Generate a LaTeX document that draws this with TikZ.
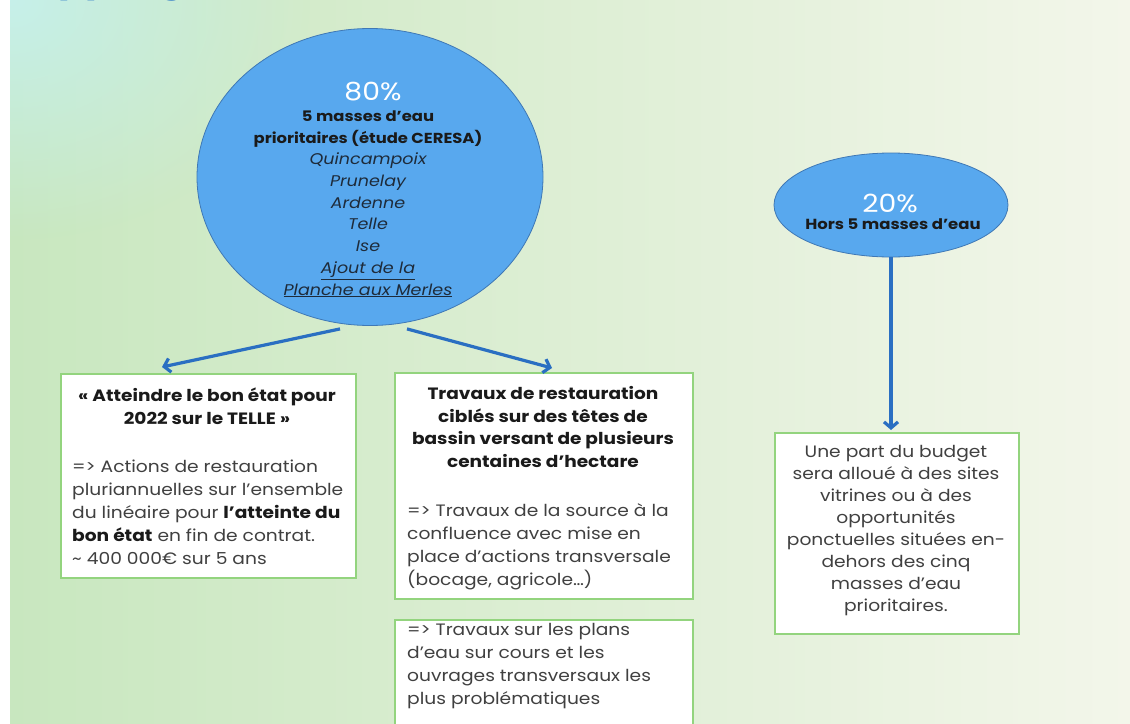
\documentclass[tikz,border=0pt]{standalone}
\usepackage{fontspec}
\setmainfont{Poppins}[FakeStretch=1.13]
\usetikzlibrary{shapes.geometric,arrows.meta,calc,fadings}
\tikzfading[name=cornerfade, inner color=transparent!0, outer color=transparent!100]
\definecolor{bgL}{HTML}{C8E7BF}
\definecolor{bgM}{HTML}{DDEDD1}
\definecolor{bgR}{HTML}{F3F6EA}
\definecolor{bgC}{HTML}{C6F0EA}
\definecolor{ellfill}{HTML}{58A8EE}
\definecolor{ellborder}{HTML}{3F78B5}
\definecolor{arrblue}{HTML}{2A6FC2}
\definecolor{boxgreen}{HTML}{93D47E}
\definecolor{bodygray}{HTML}{404040}
\definecolor{headblack}{HTML}{1A1A1A}
\definecolor{italdark}{HTML}{1E2B3A}
\definecolor{titleblue}{HTML}{1F6FC5}
\begin{document}
\begin{tikzpicture}[x=1pt,y=-1pt,
  bubble/.style={ellipse, draw=ellborder, line width=0.8pt, fill=ellfill, inner sep=0},
  boxnode/.style={draw=boxgreen, line width=1.8pt, fill=white, anchor=north west, inner sep=0},
  arr/.style={draw=arrblue, line width=3.2pt, -{Straight Barb[length=6pt,width=14pt]}},
  bodytxt/.style={inner sep=0, text=bodygray, font=\fontsize{16.5}{23}\selectfont},
  headtxt/.style={inner sep=0, text=headblack, align=center, font=\bfseries\fontsize{16.4}{22.7}\selectfont},
  pct/.style={inner sep=0, text=white, font=\fontsize{25}{28}\selectfont}
]
\useasboundingbox (0,0) rectangle (1130,723);
\fill[white] (0,0) rectangle (1130,723);
\shade[left color=bgL, middle color=bgM, right color=bgR] (10,0) rectangle (1130,723);
\begin{scope}
  \clip (10,0) rectangle (1130,723);
  \fill[bgC, path fading=cornerfade] (10,0) ellipse (300 and 240);
\end{scope}

% clipped title
\node[anchor=base west, inner sep=0, text=titleblue, font=\bfseries\fontsize{35}{40}\selectfont] (title) at (29,-9) {Appui global};

% ellipses
\node[bubble, minimum width=346, minimum height=297] (e1) at (370,177) {};
\node[pct] (p80) at (373,92) {80\%};
\node[inner sep=0, align=center, font=\fontsize{14.5}{21.7}\selectfont] (e1t) at (368,204)
  {\textcolor{headblack}{\bfseries 5 masses d’eau}\\
   \textcolor{headblack}{\bfseries prioritaires (étude CERESA)}\\
   \textcolor{italdark}{\fontsize{15.5}{21.7}\selectfont\itshape Quincampoix}\\
   \textcolor{italdark}{\fontsize{15.5}{21.7}\selectfont\itshape Prunelay}\\
   \textcolor{italdark}{\fontsize{15.5}{21.7}\selectfont\itshape Ardenne}\\
   \textcolor{italdark}{\fontsize{15.5}{21.7}\selectfont\itshape Telle}\\
   \textcolor{italdark}{\fontsize{15.5}{21.7}\selectfont\itshape Ise}\\
   \textcolor{italdark}{\fontsize{15.5}{21.7}\selectfont\itshape\underline{Ajout de la}}\\
   \textcolor{italdark}{\fontsize{15.5}{21.7}\selectfont\itshape\underline{Planche aux Merles}}};

\node[bubble, minimum width=234, minimum height=104] (e2) at (891,205) {};
\node[pct] (p20) at (890,203) {20\%};
\node[inner sep=0, text=headblack, font=\bfseries\fontsize{14.6}{18}\selectfont] (e2t) at (893,224) {Hors 5 masses d’eau};

% boxes
\node[boxnode, minimum width=295, minimum height=204] (b1) at (60,373) {};
\node[headtxt] (b1h) at (207,406) {« Atteindre le bon état pour\\2022 sur le TELLE »};
\node[bodytxt, anchor=west, align=left] (b1t) at (72,512.5)
  {=> Actions de restauration\\pluriannuelles sur l’ensemble\\du linéaire pour \textcolor{headblack}{\bfseries l’atteinte du}\\\textcolor{headblack}{\bfseries bon état} en fin de contrat.\\\mbox{\char"007E\ 400 000€ sur 5 ans}};

\node[boxnode, minimum width=298, minimum height=226] (b2) at (394,372) {};
\node[headtxt] (b2h) at (543,427) {Travaux de restauration\\ciblés sur des têtes de\\bassin versant de plusieurs\\centaines d’hectare};
\node[bodytxt, anchor=west, align=left] (b2t) at (407,547)
  {=> Travaux de la source à la\\confluence avec mise en\\place d’actions transversale\\(bocage, agricole…)};

\node[boxnode, minimum width=298, minimum height=130] (b3) at (394,619) {};
\node[bodytxt, anchor=west, align=left] (b3t) at (407,666)
  {=> Travaux sur les plans\\d’eau sur cours et les\\ouvrages transversaux les\\plus problématiques};

\node[boxnode, minimum width=244, minimum height=201] (b4) at (774,432) {};
\node[bodytxt, align=center, font=\fontsize{16.5}{22}\selectfont] (b4t) at (896,531)
  {Une part du budget\\sera alloué à des sites\\vitrines ou à des\\opportunités\\ponctuelles situées en-\\dehors des cinq\\masses d’eau\\prioritaires.};

% connectors
\draw[arr] ($(e1.south)+(-30,3)$) -- ($(b1.north west)+(102,-6)$);
\draw[arr] ($(e1.south)+(37,3)$) -- ($(b2.north west)+(158,-4)$);
\draw[arr] (e2.south) -- ($(b4.north west)+(117,-2)$);
\end{tikzpicture}
\end{document}
